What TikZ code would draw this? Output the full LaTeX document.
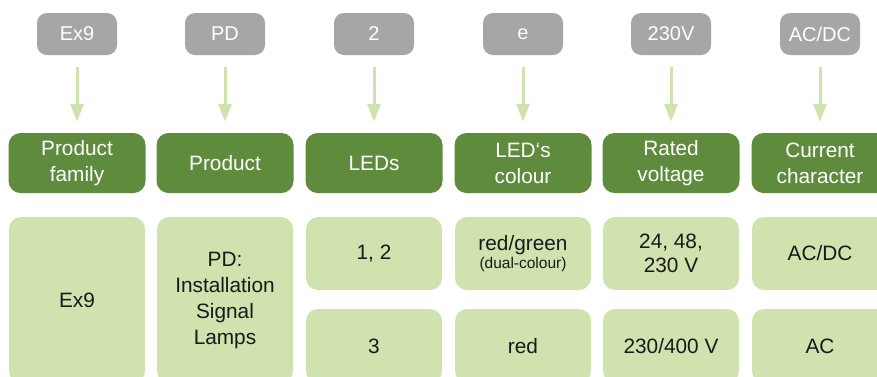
\documentclass[tikz,border=0pt]{standalone}
\usepackage{fontspec}
\setmainfont{Liberation Sans}
\usetikzlibrary{arrows.meta}
\definecolor{codegray}{HTML}{A6A6A8}
\definecolor{titlegreen}{HTML}{5F8B3D}
\definecolor{valuegreen}{HTML}{D0E3AE}
\tikzset{
	codebox/.style={fill=codegray,text=white,rounded corners=10pt,minimum width=80pt,minimum height=42pt,inner sep=0pt,font=\fontsize{20}{24}\selectfont},
	titlebox/.style={fill=titlegreen,text=white,rounded corners=12pt,minimum width=137pt,minimum height=60pt,inner sep=0pt,align=center},
	valuebox/.style={fill=valuegreen,text=black!90,rounded corners=12pt,minimum width=136pt,inner sep=0pt,align=center},
	feed/.style={draw=valuegreen,line width=3pt,-{Triangle[width=13pt,length=18pt]},shorten <=12pt,shorten >=11pt}
}
\begin{document}
\begin{tikzpicture}[x=1pt,y=-1pt,font=\fontsize{20.8}{26}\selectfont]
\clip (0,0) rectangle (877,376);
\def\ytop{34}
\def\ymid{163}
\foreach \n/\cx/\code/\name in {1/77/Ex9/{Product\\family},2/225/PD/Product,3/374/2/LEDs,4/523/e/{LED‘s\\colour},5/671/230V/{Rated\\voltage},6/820/{AC/DC}/{Current\\character}} {
	\node[codebox] (c\n) at (\cx,\ytop) {\code};
	\node[titlebox] (t\n) at (\cx,\ymid) {\name};
	\draw[feed] (c\n) -- (t\n);
}
\node[valuebox,minimum height=166pt] (v1) at (77,300) {Ex9};
\node[valuebox,minimum height=166pt] (v2) at (225,300) {PD:\\Installation\\Signal\\Lamps};
\node[valuebox,minimum height=73pt] (v3a) at (374,253.5) {1, 2};
\node[valuebox,minimum height=74pt] (v3b) at (374,346) {3};
\node[valuebox,minimum height=73pt] (v4a) at (523,253.5) {red/green\\[-8pt]{\fontsize{15.5}{18}\selectfont(dual-colour)}};
\node[valuebox,minimum height=74pt] (v4b) at (523,346) {red};
\node[valuebox,minimum height=73pt] (v5a) at (671,253.5) {24, 48,\\[-2pt]230 V};
\node[valuebox,minimum height=74pt] (v5b) at (671,346) {230/400 V};
\node[valuebox,minimum height=73pt] (v6a) at (820,253.5) {AC/DC};
\node[valuebox,minimum height=74pt] (v6b) at (820,346) {AC};
\end{tikzpicture}
\end{document}
